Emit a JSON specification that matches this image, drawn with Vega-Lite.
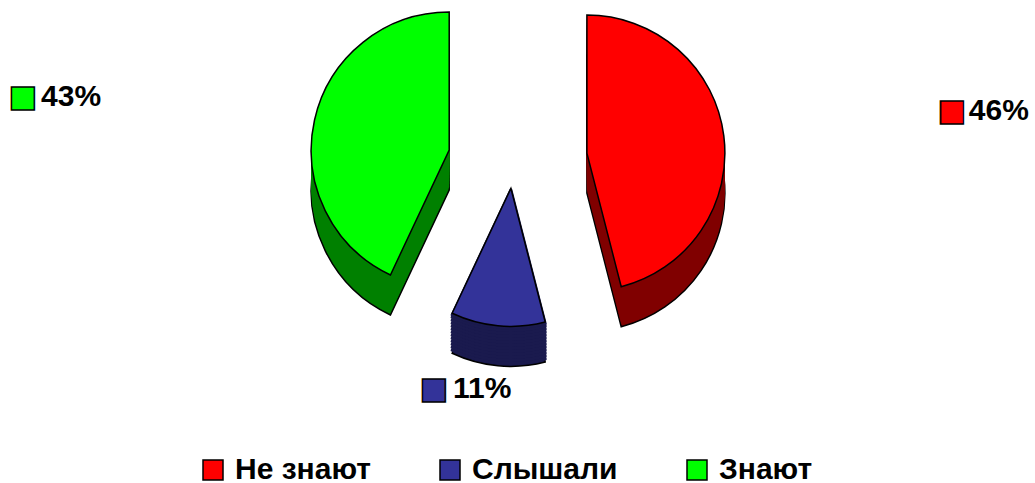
{
  "$schema": "https://vega.github.io/schema/vega-lite/v6.json",
  "width": 1035,
  "height": 314,
  "padding": 0,
  "background": "white",
  "config": {"view": {"stroke": null}},
  "data": {
    "values": [
      {"k": "Не знают", "pct": 0.46},
      {"k": "Слышали", "pct": 0.11},
      {"k": "Знают", "pct": 0.43}
    ]
  },
  "transform": [{"stack": "pct", "groupby": [], "as": ["v0", "v1"]}],
  "layer": [
    {"transform": [{"filter": "datum.k === 'Не знают'"}], "mark": {"type": "arc", "radius": 138, "fill": "#800000", "stroke": "#000000", "strokeWidth": 1.5, "xOffset": 69.4, "yOffset": 36.1}, "encoding": {"theta": {"field": "v0", "type": "quantitative", "scale": {"domain": [0, 1]}}, "theta2": {"field": "v1"}}},
    {"transform": [{"filter": "datum.k === 'Не знают'"}], "mark": {"type": "arc", "radius": 138, "fill": "#800000", "xOffset": 69.4, "yOffset": 33.1}, "encoding": {"theta": {"field": "v0", "type": "quantitative", "scale": {"domain": [0, 1]}}, "theta2": {"field": "v1"}}},
    {"transform": [{"filter": "datum.k === 'Не знают'"}], "mark": {"type": "arc", "radius": 138, "fill": "#800000", "xOffset": 69.4, "yOffset": 30.1}, "encoding": {"theta": {"field": "v0", "type": "quantitative", "scale": {"domain": [0, 1]}}, "theta2": {"field": "v1"}}},
    {"transform": [{"filter": "datum.k === 'Не знают'"}], "mark": {"type": "arc", "radius": 138, "fill": "#800000", "xOffset": 69.4, "yOffset": 27.1}, "encoding": {"theta": {"field": "v0", "type": "quantitative", "scale": {"domain": [0, 1]}}, "theta2": {"field": "v1"}}},
    {"transform": [{"filter": "datum.k === 'Не знают'"}], "mark": {"type": "arc", "radius": 138, "fill": "#800000", "xOffset": 69.4, "yOffset": 24.1}, "encoding": {"theta": {"field": "v0", "type": "quantitative", "scale": {"domain": [0, 1]}}, "theta2": {"field": "v1"}}},
    {"transform": [{"filter": "datum.k === 'Не знают'"}], "mark": {"type": "arc", "radius": 138, "fill": "#800000", "xOffset": 69.4, "yOffset": 21.1}, "encoding": {"theta": {"field": "v0", "type": "quantitative", "scale": {"domain": [0, 1]}}, "theta2": {"field": "v1"}}},
    {"transform": [{"filter": "datum.k === 'Не знают'"}], "mark": {"type": "arc", "radius": 138, "fill": "#800000", "xOffset": 69.4, "yOffset": 18.1}, "encoding": {"theta": {"field": "v0", "type": "quantitative", "scale": {"domain": [0, 1]}}, "theta2": {"field": "v1"}}},
    {"transform": [{"filter": "datum.k === 'Не знают'"}], "mark": {"type": "arc", "radius": 138, "fill": "#800000", "xOffset": 69.4, "yOffset": 15.1}, "encoding": {"theta": {"field": "v0", "type": "quantitative", "scale": {"domain": [0, 1]}}, "theta2": {"field": "v1"}}},
    {"transform": [{"filter": "datum.k === 'Не знают'"}], "mark": {"type": "arc", "radius": 138, "fill": "#800000", "xOffset": 69.4, "yOffset": 12.1}, "encoding": {"theta": {"field": "v0", "type": "quantitative", "scale": {"domain": [0, 1]}}, "theta2": {"field": "v1"}}},
    {"transform": [{"filter": "datum.k === 'Не знают'"}], "mark": {"type": "arc", "radius": 138, "fill": "#800000", "xOffset": 69.4, "yOffset": 9.1}, "encoding": {"theta": {"field": "v0", "type": "quantitative", "scale": {"domain": [0, 1]}}, "theta2": {"field": "v1"}}},
    {"transform": [{"filter": "datum.k === 'Не знают'"}], "mark": {"type": "arc", "radius": 138, "fill": "#800000", "xOffset": 69.4, "yOffset": 6.1}, "encoding": {"theta": {"field": "v0", "type": "quantitative", "scale": {"domain": [0, 1]}}, "theta2": {"field": "v1"}}},
    {"transform": [{"filter": "datum.k === 'Не знают'"}], "mark": {"type": "arc", "radius": 138, "fill": "#800000", "xOffset": 69.4, "yOffset": 3.1}, "encoding": {"theta": {"field": "v0", "type": "quantitative", "scale": {"domain": [0, 1]}}, "theta2": {"field": "v1"}}},
    {"transform": [{"filter": "datum.k === 'Не знают'"}], "mark": {"type": "arc", "radius": 138, "fill": "#800000", "xOffset": 69.4, "yOffset": 0.1}, "encoding": {"theta": {"field": "v0", "type": "quantitative", "scale": {"domain": [0, 1]}}, "theta2": {"field": "v1"}}},
    {"transform": [{"filter": "datum.k === 'Не знают'"}], "mark": {"type": "arc", "radius": 138, "fill": "#800000", "xOffset": 69.4, "yOffset": -2.4}, "encoding": {"theta": {"field": "v0", "type": "quantitative", "scale": {"domain": [0, 1]}}, "theta2": {"field": "v1"}}},

    {"transform": [{"filter": "datum.k === 'Слышали'"}], "mark": {"type": "arc", "radius": 138, "fill": "#1A1A4E", "stroke": "#000000", "strokeWidth": 1.5, "xOffset": -6.6, "yOffset": 71.4}, "encoding": {"theta": {"field": "v0", "type": "quantitative", "scale": {"domain": [0, 1]}}, "theta2": {"field": "v1"}}},
    {"transform": [{"filter": "datum.k === 'Слышали'"}], "mark": {"type": "arc", "radius": 138, "fill": "#1A1A4E", "stroke": "#1A1A4E", "strokeWidth": 3, "strokeJoin": "round", "xOffset": -6.6, "yOffset": 68.4}, "encoding": {"theta": {"field": "v0", "type": "quantitative", "scale": {"domain": [0, 1]}}, "theta2": {"field": "v1"}}},
    {"transform": [{"filter": "datum.k === 'Слышали'"}], "mark": {"type": "arc", "radius": 138, "fill": "#1A1A4E", "stroke": "#1A1A4E", "strokeWidth": 3, "strokeJoin": "round", "xOffset": -6.6, "yOffset": 65.4}, "encoding": {"theta": {"field": "v0", "type": "quantitative", "scale": {"domain": [0, 1]}}, "theta2": {"field": "v1"}}},
    {"transform": [{"filter": "datum.k === 'Слышали'"}], "mark": {"type": "arc", "radius": 138, "fill": "#1A1A4E", "stroke": "#1A1A4E", "strokeWidth": 3, "strokeJoin": "round", "xOffset": -6.6, "yOffset": 62.4}, "encoding": {"theta": {"field": "v0", "type": "quantitative", "scale": {"domain": [0, 1]}}, "theta2": {"field": "v1"}}},
    {"transform": [{"filter": "datum.k === 'Слышали'"}], "mark": {"type": "arc", "radius": 138, "fill": "#1A1A4E", "stroke": "#1A1A4E", "strokeWidth": 3, "strokeJoin": "round", "xOffset": -6.6, "yOffset": 59.4}, "encoding": {"theta": {"field": "v0", "type": "quantitative", "scale": {"domain": [0, 1]}}, "theta2": {"field": "v1"}}},
    {"transform": [{"filter": "datum.k === 'Слышали'"}], "mark": {"type": "arc", "radius": 138, "fill": "#1A1A4E", "stroke": "#1A1A4E", "strokeWidth": 3, "strokeJoin": "round", "xOffset": -6.6, "yOffset": 56.4}, "encoding": {"theta": {"field": "v0", "type": "quantitative", "scale": {"domain": [0, 1]}}, "theta2": {"field": "v1"}}},
    {"transform": [{"filter": "datum.k === 'Слышали'"}], "mark": {"type": "arc", "radius": 138, "fill": "#1A1A4E", "stroke": "#1A1A4E", "strokeWidth": 3, "strokeJoin": "round", "xOffset": -6.6, "yOffset": 53.4}, "encoding": {"theta": {"field": "v0", "type": "quantitative", "scale": {"domain": [0, 1]}}, "theta2": {"field": "v1"}}},
    {"transform": [{"filter": "datum.k === 'Слышали'"}], "mark": {"type": "arc", "radius": 138, "fill": "#1A1A4E", "stroke": "#1A1A4E", "strokeWidth": 3, "strokeJoin": "round", "xOffset": -6.6, "yOffset": 50.4}, "encoding": {"theta": {"field": "v0", "type": "quantitative", "scale": {"domain": [0, 1]}}, "theta2": {"field": "v1"}}},
    {"transform": [{"filter": "datum.k === 'Слышали'"}], "mark": {"type": "arc", "radius": 138, "fill": "#1A1A4E", "stroke": "#1A1A4E", "strokeWidth": 3, "strokeJoin": "round", "xOffset": -6.6, "yOffset": 47.4}, "encoding": {"theta": {"field": "v0", "type": "quantitative", "scale": {"domain": [0, 1]}}, "theta2": {"field": "v1"}}},
    {"transform": [{"filter": "datum.k === 'Слышали'"}], "mark": {"type": "arc", "radius": 138, "fill": "#1A1A4E", "stroke": "#1A1A4E", "strokeWidth": 3, "strokeJoin": "round", "xOffset": -6.6, "yOffset": 44.4}, "encoding": {"theta": {"field": "v0", "type": "quantitative", "scale": {"domain": [0, 1]}}, "theta2": {"field": "v1"}}},
    {"transform": [{"filter": "datum.k === 'Слышали'"}], "mark": {"type": "arc", "radius": 138, "fill": "#1A1A4E", "stroke": "#1A1A4E", "strokeWidth": 3, "strokeJoin": "round", "xOffset": -6.6, "yOffset": 41.4}, "encoding": {"theta": {"field": "v0", "type": "quantitative", "scale": {"domain": [0, 1]}}, "theta2": {"field": "v1"}}},
    {"transform": [{"filter": "datum.k === 'Слышали'"}], "mark": {"type": "arc", "radius": 138, "fill": "#1A1A4E", "stroke": "#1A1A4E", "strokeWidth": 3, "strokeJoin": "round", "xOffset": -6.6, "yOffset": 38.4}, "encoding": {"theta": {"field": "v0", "type": "quantitative", "scale": {"domain": [0, 1]}}, "theta2": {"field": "v1"}}},
    {"transform": [{"filter": "datum.k === 'Слышали'"}], "mark": {"type": "arc", "radius": 138, "fill": "#1A1A4E", "stroke": "#1A1A4E", "strokeWidth": 3, "strokeJoin": "round", "xOffset": -6.6, "yOffset": 35.4}, "encoding": {"theta": {"field": "v0", "type": "quantitative", "scale": {"domain": [0, 1]}}, "theta2": {"field": "v1"}}},
    {"transform": [{"filter": "datum.k === 'Слышали'"}], "mark": {"type": "arc", "radius": 138, "fill": "#1A1A4E", "stroke": "#1A1A4E", "strokeWidth": 3, "strokeJoin": "round", "xOffset": -6.6, "yOffset": 32.9}, "encoding": {"theta": {"field": "v0", "type": "quantitative", "scale": {"domain": [0, 1]}}, "theta2": {"field": "v1"}}},

    {"transform": [{"filter": "datum.k === 'Знают'"}], "mark": {"type": "arc", "radius": 138, "fill": "#008000", "stroke": "#000000", "strokeWidth": 1.5, "xOffset": -68.3, "yOffset": 33.1}, "encoding": {"theta": {"field": "v0", "type": "quantitative", "scale": {"domain": [0, 1]}}, "theta2": {"field": "v1"}}},
    {"transform": [{"filter": "datum.k === 'Знают'"}], "mark": {"type": "arc", "radius": 138, "fill": "#008000", "xOffset": -68.3, "yOffset": 30.1}, "encoding": {"theta": {"field": "v0", "type": "quantitative", "scale": {"domain": [0, 1]}}, "theta2": {"field": "v1"}}},
    {"transform": [{"filter": "datum.k === 'Знают'"}], "mark": {"type": "arc", "radius": 138, "fill": "#008000", "xOffset": -68.3, "yOffset": 27.1}, "encoding": {"theta": {"field": "v0", "type": "quantitative", "scale": {"domain": [0, 1]}}, "theta2": {"field": "v1"}}},
    {"transform": [{"filter": "datum.k === 'Знают'"}], "mark": {"type": "arc", "radius": 138, "fill": "#008000", "xOffset": -68.3, "yOffset": 24.1}, "encoding": {"theta": {"field": "v0", "type": "quantitative", "scale": {"domain": [0, 1]}}, "theta2": {"field": "v1"}}},
    {"transform": [{"filter": "datum.k === 'Знают'"}], "mark": {"type": "arc", "radius": 138, "fill": "#008000", "xOffset": -68.3, "yOffset": 21.1}, "encoding": {"theta": {"field": "v0", "type": "quantitative", "scale": {"domain": [0, 1]}}, "theta2": {"field": "v1"}}},
    {"transform": [{"filter": "datum.k === 'Знают'"}], "mark": {"type": "arc", "radius": 138, "fill": "#008000", "xOffset": -68.3, "yOffset": 18.1}, "encoding": {"theta": {"field": "v0", "type": "quantitative", "scale": {"domain": [0, 1]}}, "theta2": {"field": "v1"}}},
    {"transform": [{"filter": "datum.k === 'Знают'"}], "mark": {"type": "arc", "radius": 138, "fill": "#008000", "xOffset": -68.3, "yOffset": 15.1}, "encoding": {"theta": {"field": "v0", "type": "quantitative", "scale": {"domain": [0, 1]}}, "theta2": {"field": "v1"}}},
    {"transform": [{"filter": "datum.k === 'Знают'"}], "mark": {"type": "arc", "radius": 138, "fill": "#008000", "xOffset": -68.3, "yOffset": 12.1}, "encoding": {"theta": {"field": "v0", "type": "quantitative", "scale": {"domain": [0, 1]}}, "theta2": {"field": "v1"}}},
    {"transform": [{"filter": "datum.k === 'Знают'"}], "mark": {"type": "arc", "radius": 138, "fill": "#008000", "xOffset": -68.3, "yOffset": 9.1}, "encoding": {"theta": {"field": "v0", "type": "quantitative", "scale": {"domain": [0, 1]}}, "theta2": {"field": "v1"}}},
    {"transform": [{"filter": "datum.k === 'Знают'"}], "mark": {"type": "arc", "radius": 138, "fill": "#008000", "xOffset": -68.3, "yOffset": 6.1}, "encoding": {"theta": {"field": "v0", "type": "quantitative", "scale": {"domain": [0, 1]}}, "theta2": {"field": "v1"}}},
    {"transform": [{"filter": "datum.k === 'Знают'"}], "mark": {"type": "arc", "radius": 138, "fill": "#008000", "xOffset": -68.3, "yOffset": 3.1}, "encoding": {"theta": {"field": "v0", "type": "quantitative", "scale": {"domain": [0, 1]}}, "theta2": {"field": "v1"}}},
    {"transform": [{"filter": "datum.k === 'Знают'"}], "mark": {"type": "arc", "radius": 138, "fill": "#008000", "xOffset": -68.3, "yOffset": 0.1}, "encoding": {"theta": {"field": "v0", "type": "quantitative", "scale": {"domain": [0, 1]}}, "theta2": {"field": "v1"}}},
    {"transform": [{"filter": "datum.k === 'Знают'"}], "mark": {"type": "arc", "radius": 138, "fill": "#008000", "xOffset": -68.3, "yOffset": -2.9}, "encoding": {"theta": {"field": "v0", "type": "quantitative", "scale": {"domain": [0, 1]}}, "theta2": {"field": "v1"}}},
    {"transform": [{"filter": "datum.k === 'Знают'"}], "mark": {"type": "arc", "radius": 138, "fill": "#008000", "xOffset": -68.3, "yOffset": -5.4}, "encoding": {"theta": {"field": "v0", "type": "quantitative", "scale": {"domain": [0, 1]}}, "theta2": {"field": "v1"}}},

    {"transform": [{"filter": "datum.k === 'Не знают'"}], "mark": {"type": "arc", "radius": 138, "stroke": "#000000", "strokeWidth": 1.5, "xOffset": 69.4, "yOffset": -3.9},
     "encoding": {
       "theta": {"field": "v0", "type": "quantitative", "scale": {"domain": [0, 1]}}, "theta2": {"field": "v1"},
       "color": {"field": "k", "type": "nominal",
         "scale": {"domain": ["Не знают", "Слышали", "Знают"], "range": ["#FF0000", "#333399", "#00FF00"]},
         "legend": {"orient": "none", "legendX": 198, "legendY": 455, "direction": "horizontal", "title": null,
           "symbolType": "square", "symbolSize": 400, "symbolStrokeColor": "#000000", "symbolStrokeWidth": 1.5, "symbolOpacity": 1,
           "labelFont": "Liberation Sans", "labelFontSize": 30, "labelFontWeight": "bold", "labelColor": "#000000",
           "labelOffset": 7, "columnPadding": 64, "labelLimit": 400,
           "encode": {"symbols": {"update": {"stroke": {"value": "#000000"}, "strokeWidth": {"value": 1.5}}}}}}}},
    {"transform": [{"filter": "datum.k === 'Слышали'"}], "mark": {"type": "arc", "radius": 138, "stroke": "#000000", "strokeWidth": 1.5, "xOffset": -6.6, "yOffset": 31.4},
     "encoding": {"theta": {"field": "v0", "type": "quantitative", "scale": {"domain": [0, 1]}}, "theta2": {"field": "v1"}, "color": {"field": "k", "type": "nominal"}}},
    {"transform": [{"filter": "datum.k === 'Знают'"}], "mark": {"type": "arc", "radius": 138, "stroke": "#000000", "strokeWidth": 1.5, "xOffset": -68.3, "yOffset": -6.9},
     "encoding": {"theta": {"field": "v0", "type": "quantitative", "scale": {"domain": [0, 1]}}, "theta2": {"field": "v1"}, "color": {"field": "k", "type": "nominal"}}},

    {"mark": {"type": "text", "radius": 470, "font": "DejaVu Sans", "fontSize": 30, "align": "center", "baseline": "middle", "dx": -32, "dy": 13, "fill": "#FF0000", "stroke": "#000000", "strokeWidth": 1.5},
     "encoding": {"theta": {"field": "pct", "type": "quantitative", "stack": true, "scale": {"domain": [0, 1]}}, "order": {"field": "v0", "type": "quantitative"}, "detail": {"field": "k"}, "text": {"value": "■"},
       "opacity": {"condition": {"test": "datum.k === 'Не знают'", "value": 1}, "value": 0}}},
    {"mark": {"type": "text", "radius": 470, "font": "Liberation Sans", "fontSize": 30, "fontWeight": "bold", "align": "left", "baseline": "middle", "dx": -15, "dy": 13, "fill": "#000000"},
     "encoding": {"theta": {"field": "pct", "type": "quantitative", "stack": true, "scale": {"domain": [0, 1]}}, "order": {"field": "v0", "type": "quantitative"}, "detail": {"field": "k"}, "text": {"field": "pct", "type": "quantitative", "format": ".0%"},
       "opacity": {"condition": {"test": "datum.k === 'Не знают'", "value": 1}, "value": 0}}},

    {"mark": {"type": "text", "radius": 222, "font": "DejaVu Sans", "fontSize": 30, "align": "center", "baseline": "middle", "dx": -63, "dy": 11, "fill": "#333399", "stroke": "#000000", "strokeWidth": 1.5},
     "encoding": {"theta": {"field": "pct", "type": "quantitative", "stack": true, "scale": {"domain": [0, 1]}}, "order": {"field": "v0", "type": "quantitative"}, "detail": {"field": "k"}, "text": {"value": "■"},
       "opacity": {"condition": {"test": "datum.k === 'Слышали'", "value": 1}, "value": 0}}},
    {"mark": {"type": "text", "radius": 222, "font": "Liberation Sans", "fontSize": 30, "fontWeight": "bold", "align": "left", "baseline": "middle", "dx": -43.6, "dy": 11, "fill": "#000000"},
     "encoding": {"theta": {"field": "pct", "type": "quantitative", "stack": true, "scale": {"domain": [0, 1]}}, "order": {"field": "v0", "type": "quantitative"}, "detail": {"field": "k"}, "text": {"field": "pct", "type": "quantitative", "format": ".0%"},
       "opacity": {"condition": {"test": "datum.k === 'Слышали'", "value": 1}, "value": 0}}},

    {"mark": {"type": "text", "radius": 460, "font": "DejaVu Sans", "fontSize": 30, "align": "center", "baseline": "middle", "dx": -46, "dy": 40, "fill": "#00FF00", "stroke": "#000000", "strokeWidth": 1.5},
     "encoding": {"theta": {"field": "pct", "type": "quantitative", "stack": true, "scale": {"domain": [0, 1]}}, "order": {"field": "v0", "type": "quantitative"}, "detail": {"field": "k"}, "text": {"value": "■"},
       "opacity": {"condition": {"test": "datum.k === 'Знают'", "value": 1}, "value": 0}}},
    {"mark": {"type": "text", "radius": 460, "font": "Liberation Sans", "fontSize": 30, "fontWeight": "bold", "align": "left", "baseline": "middle", "dx": -27.5, "dy": 40, "fill": "#000000"},
     "encoding": {"theta": {"field": "pct", "type": "quantitative", "stack": true, "scale": {"domain": [0, 1]}}, "order": {"field": "v0", "type": "quantitative"}, "detail": {"field": "k"}, "text": {"field": "pct", "type": "quantitative", "format": ".0%"},
       "opacity": {"condition": {"test": "datum.k === 'Знают'", "value": 1}, "value": 0}}}
  ]
}
